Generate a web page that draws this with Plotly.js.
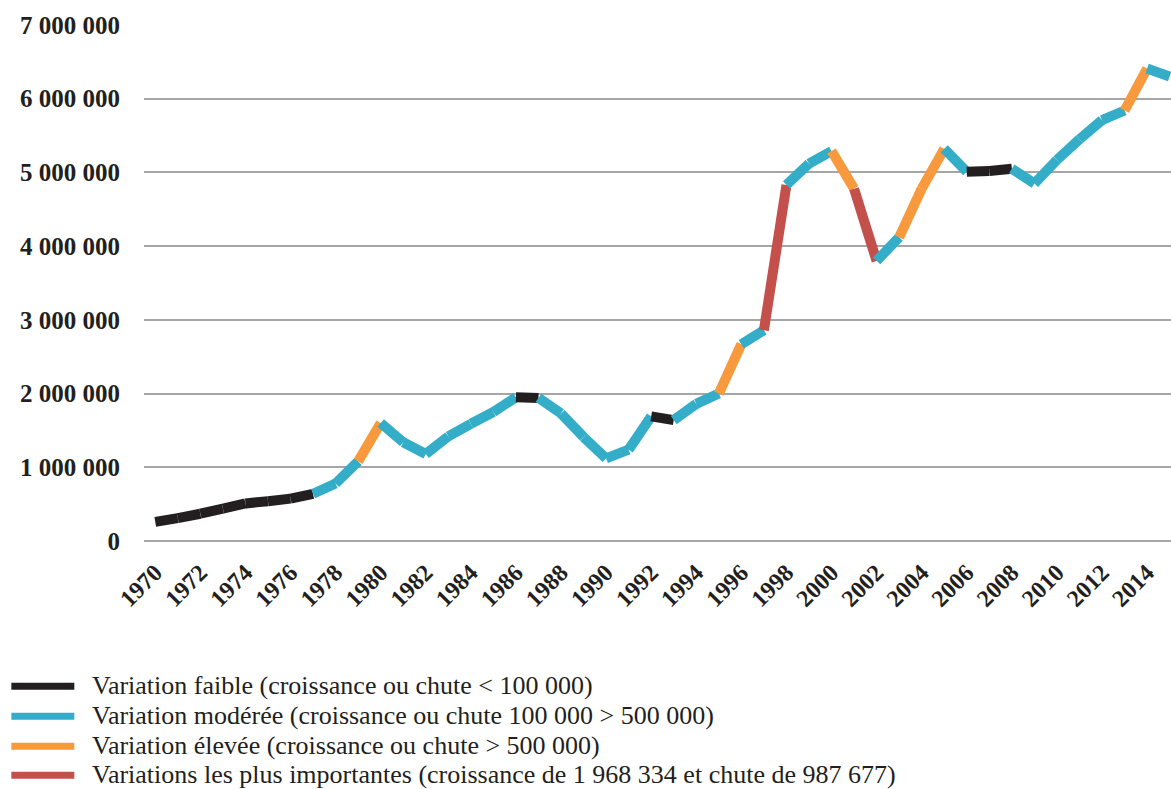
<!DOCTYPE html>
<html>
<head>
<meta charset="utf-8">
<script src="https://cdn.plot.ly/plotly-3.0.1.min.js"></script>
<style>html,body{margin:0;padding:0;background:#fff;}#chart{width:1171px;height:789px;}</style>
</head>
<body>
<div id="chart"></div>
<script>
const years = [1970,1971,1972,1973,1974,1975,1976,1977,1978,1979,1980,1981,1982,1983,1984,1985,1986,1987,1988,1989,1990,1991,1992,1993,1994,1995,1996,1997,1998,1999,2000,2001,2002,2003,2004,2005,2006,2007,2008,2009,2010,2011,2012,2013,2014,2015];
const values = [260000,310000,370000,440000,510000,540000,575000,640000,780000,1080000,1600000,1340000,1180000,1420000,1590000,1750000,1950000,1940000,1730000,1410000,1120000,1240000,1690000,1640000,1860000,2000000,2670000,2860000,4830000,5120000,5290000,4780000,3800000,4120000,4780000,5320000,5010000,5020000,5050000,4850000,5170000,5450000,5710000,5840000,6410000,6300000];
// class of each segment (year i -> year i+1): 0 faible, 1 modérée, 2 élevée, 3 plus importantes
const segmentClass = [0,0,0,0,0,0,0, 1,1,2,1,1,1,1,1,1, 0,1,1,1,1,1, 0,1,1,2,1,3,1,1,2,3,1,2,2,1, 0,0,1,1,1,1,1,2,1];
const classLabels = [
  "Variation faible (croissance ou chute < 100 000)",
  "Variation modérée (croissance ou chute 100 000 > 500 000)",
  "Variation élevée (croissance ou chute > 500 000)",
  "Variations les plus importantes (croissance de 1 968 334 et chute de 987 677)"
];
const classColors = ["#231f20", "#33adc8", "#f7993c", "#c4504c"];
const xTickYears = [1970,1972,1974,1976,1978,1980,1982,1984,1986,1988,1990,1992,1994,1996,1998,2000,2002,2004,2006,2008,2010,2012,2014];

const FIG_W = 1171, FIG_H = 789;
const L = 143.7, R = 0, T = 24.8, B = FIG_H - 540.7;
const PW = FIG_W - L - R, PH = FIG_H - T - B;
const px2x = p => (p - L) / PW;
const px2y = p => (FIG_H - B - p) / PH;

const traces = [];
for (let i = 0; i < segmentClass.length; i++) {
  traces.push({
    type: 'scatter', mode: 'lines',
    x: [years[i], years[i+1]], y: [values[i], values[i+1]],
    line: {color: classColors[segmentClass[i]], width: 10},
    showlegend: false, hoverinfo: 'skip'
  });
}

const serif = "Liberation Serif";
const shapes = [], annotations = [];
const legendY = [685, 715, 745, 774];
for (let k = 0; k < classLabels.length; k++) {
  shapes.push({type: 'line', xref: 'paper', yref: 'paper',
    x0: px2x(11), x1: px2x(74), y0: px2y(legendY[k] + 1), y1: px2y(legendY[k] + 1),
    line: {color: classColors[k], width: 7}});
  annotations.push({xref: 'paper', yref: 'paper', x: px2x(90), y: px2y(legendY[k]),
    xanchor: 'left', yanchor: 'middle', showarrow: false, text: classLabels[k],
    font: {family: serif, size: 26, color: '#231f20'}});
}

const layout = {
  width: FIG_W, height: FIG_H,
  margin: {l: L, r: R, t: T, b: B, pad: 0},
  paper_bgcolor: '#fff', plot_bgcolor: '#fff',
  separators: ', ',
  showlegend: false,
  font: {family: serif},
  xaxis: {
    type: 'linear', range: [1969.5, 2015.06],
    tickmode: 'array', tickvals: xTickYears, ticktext: xTickYears.map(String),
    tickangle: -45, showgrid: false, zeroline: false, showline: false,
    ticks: 'outside', ticklen: 7, tickcolor: 'rgba(0,0,0,0)',
    tickfont: {family: serif, size: 24, color: '#231f20', weight: 'bold'}
  },
  yaxis: {
    range: [0, 7000000], tickmode: 'linear', tick0: 0, dtick: 1000000,
    tickformat: ',d',
    showgrid: true, gridcolor: '#a6a6a6', gridwidth: 2,
    zeroline: true, zerolinecolor: '#a6a6a6', zerolinewidth: 2,
    showline: false,
    ticks: 'outside', ticklen: 18, tickcolor: 'rgba(0,0,0,0)',
    tickfont: {family: serif, size: 25, color: '#231f20', weight: 'bold'}
  },
  shapes: shapes, annotations: annotations
};
Plotly.newPlot('chart', traces, layout, {displayModeBar: false, staticPlot: true});
</script>
</body>
</html>
